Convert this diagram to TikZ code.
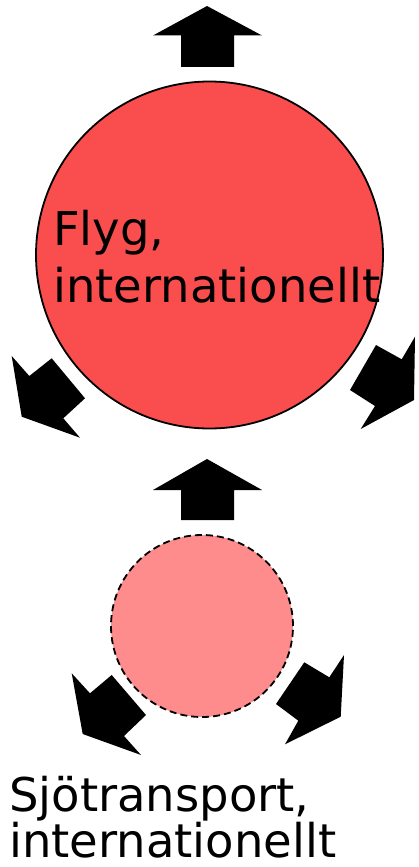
\documentclass[tikz,border=0pt]{standalone}
\usepackage{fontspec}
\setmainfont{DejaVu Sans}
\definecolor{bigred}{RGB}{250,78,78}
\definecolor{smallred}{RGB}{255,140,140}
\begin{document}
\begin{tikzpicture}[x=1pt,y=-1pt,
  blockarrow/.style={fill=black,draw=none},
  bigtext/.style={inner sep=0pt,align=left,font=\fontsize{46.5}{57}\selectfont},
  smalltext/.style={inner sep=0pt,align=left,font=\fontsize{46.5}{45}\selectfont}]
\useasboundingbox (0,0) rectangle (419,867);
% big circle
\node[circle,minimum size=347pt,inner sep=0pt,fill=bigred,draw=black,line width=1.8pt] (big) at (209.5,255) {};
% small circle
\node[circle,minimum size=182pt,inner sep=0pt,fill=smallred,draw=black,line width=1.8pt,dash pattern=on 7pt off 4pt] (small) at (202,626) {};
% up arrows
\fill[blockarrow] (181,67) -- (181,35.5) -- (153,35.5) -- (207,6) -- (262,35.5) -- (234,35.5) -- (234,67) -- cycle;
\fill[blockarrow] (181,520) -- (181,490) -- (153,490) -- (207,459) -- (262,490) -- (234,490) -- (234,520) -- cycle;
% upper left arrow
\fill[blockarrow] (11.7,356) -- (29.3,376) -- (51.7,358.3) -- (85,398.3) -- (63.3,418.3) -- (80,437.7) -- (21.7,416.7) -- cycle;
% upper right arrow
\fill[blockarrow] (376,345) -- (401.7,359.3) -- (415,336.7) -- (414,400) -- (360.7,429) -- (375,406) -- (350,390) -- cycle;
% lower left arrow
\fill[blockarrow] (71.7,673.3) -- (90,693.3) -- (111.7,675) -- (146,715) -- (124,736) -- (141,755) -- (82.7,734) -- cycle;
% lower right arrow
\fill[blockarrow] (304.3,662.3) -- (329.3,677.3) -- (344,655) -- (340.7,716.7) -- (285,744.3) -- (298.3,720.7) -- (276,704) -- cycle;
% texts
\node[bigtext,anchor=base west] (flyg) at (53,302) {Flyg,\\internationellt};
\node[smalltext,anchor=base west] (sjo) at (9,857) {Sjötransport,\\internationellt};
\end{tikzpicture}
\end{document}
